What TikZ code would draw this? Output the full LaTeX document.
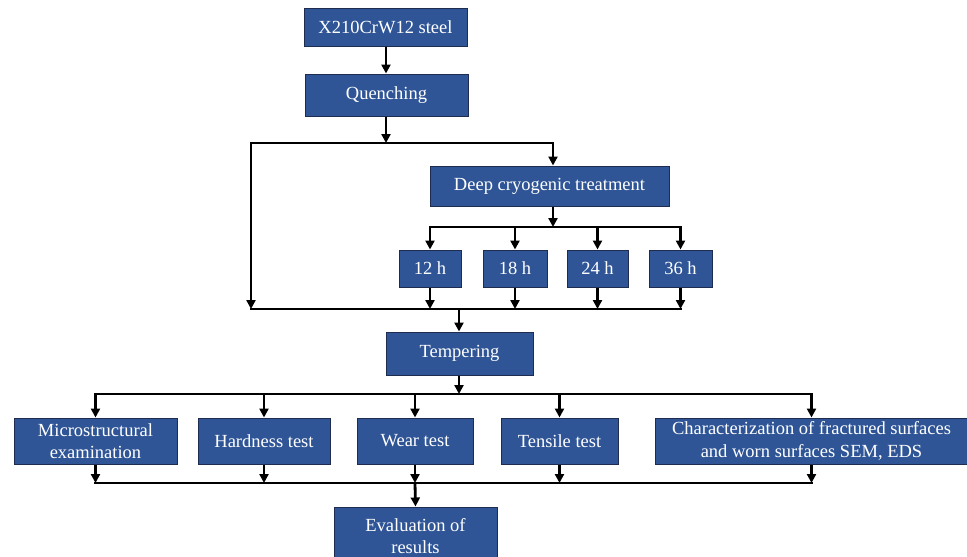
\documentclass[tikz,border=0pt]{standalone}
\usepackage{fontspec}
\setmainfont{Liberation Serif}
\usetikzlibrary{arrows.meta}
\definecolor{boxblue}{HTML}{2F5597}
\definecolor{boxline}{HTML}{1E2D4F}
\tikzset{
  box/.style={draw=boxline, fill=boxblue, text=white, line width=1pt, inner sep=0pt,
    align=center, font=\fontsize{18.5}{22.5}\selectfont},
  ln/.style={line width=2.8pt, line cap=rect},
  arr/.style={line width=2.8pt, -{Triangle[width=9pt,length=9pt]}},
}
\begin{document}
\begin{tikzpicture}[x=1pt,y=-1pt]
\useasboundingbox (0,0) rectangle (967,557);
% nodes
\node[box, minimum width=163pt, minimum height=38pt] (X) at (385.5,27) {X210CrW12 steel};
\node[box, minimum width=163pt, minimum height=42pt] (Q) at (386.5,95) {Quenching};
\node[box, minimum width=239pt, minimum height=40pt] (D) at (549.5,186) {Deep cryogenic treatment};
\node[box, minimum width=62pt, minimum height=37pt] (h12) at (430,268.5) {12 h};
\node[box, minimum width=64pt, minimum height=37pt] (h18) at (515,268.5) {18 h};
\node[box, minimum width=61pt, minimum height=37pt] (h24) at (597.5,268.5) {24 h};
\node[box, minimum width=63pt, minimum height=37pt] (h36) at (680.5,268.5) {36 h};
\node[box, minimum width=147pt, minimum height=43pt] (T) at (459.5,353.5) {Tempering};
\node[box, minimum width=163pt, minimum height=46pt] (M) at (95.5,441) {Microstructural\\examination};
\node[box, minimum width=132pt, minimum height=46pt] (H) at (264,441) {Hardness test};
\node[box, minimum width=116pt, minimum height=46pt] (W) at (415,441) {Wear test};
\node[box, minimum width=117pt, minimum height=46pt] (Ts) at (559.5,441) {Tensile test};
\node[box, minimum width=313pt, minimum height=46pt] (C) at (811.5,441) {Characterization of fractured surfaces\\and worn surfaces SEM, EDS};
\node[box, minimum width=163pt, minimum height=58pt] (E) at (415.5,536) {Evaluation of\\results};
% junction coordinates
\coordinate (j1) at (386,143);
\coordinate (tl) at (251,143);
\coordinate (tr) at (553,143);
\coordinate (bl) at (251,309);
\coordinate (j2) at (553,227);
\coordinate (j3) at (459,309);
\coordinate (j4) at (459,394);
\coordinate (j5) at (415,483);
% connectors
\draw[arr] (X.south -| j1) -- (Q.north -| j1);
\draw[arr] (Q.south -| j1) -- (j1);
\draw[ln] (tl) -- (tr);
\draw[arr] (tr) -- (tr |- D.north);
\draw[arr] (tl) -- (bl);
\draw[arr] (D.south -| j2) -- (j2);
\draw[ln] (j2 -| h12) -- (j2 -| h36);
\foreach \n in {h12,h18,h24,h36}{
  \draw[arr] (j2 -| \n) -- (\n.north);
  \draw[arr] (\n.south) -- (j3 -| \n);
}
\draw[ln] (bl) -- (j3 -| h36);
\draw[arr] (j3) -- (j3 |- T.north);
\draw[arr] (T.south -| j4) -- (j4);
\draw[ln] (j4 -| M) -- (j4 -| C);
\foreach \n in {M,H,W,Ts,C}{
  \draw[arr] (j4 -| \n) -- (\n.north);
  \draw[arr] (\n.south) -- (j5 -| \n);
}
\draw[ln] (j5 -| M) -- (j5 -| C);
\draw[arr] (j5) -- (E.north);
\end{tikzpicture}
\end{document}
